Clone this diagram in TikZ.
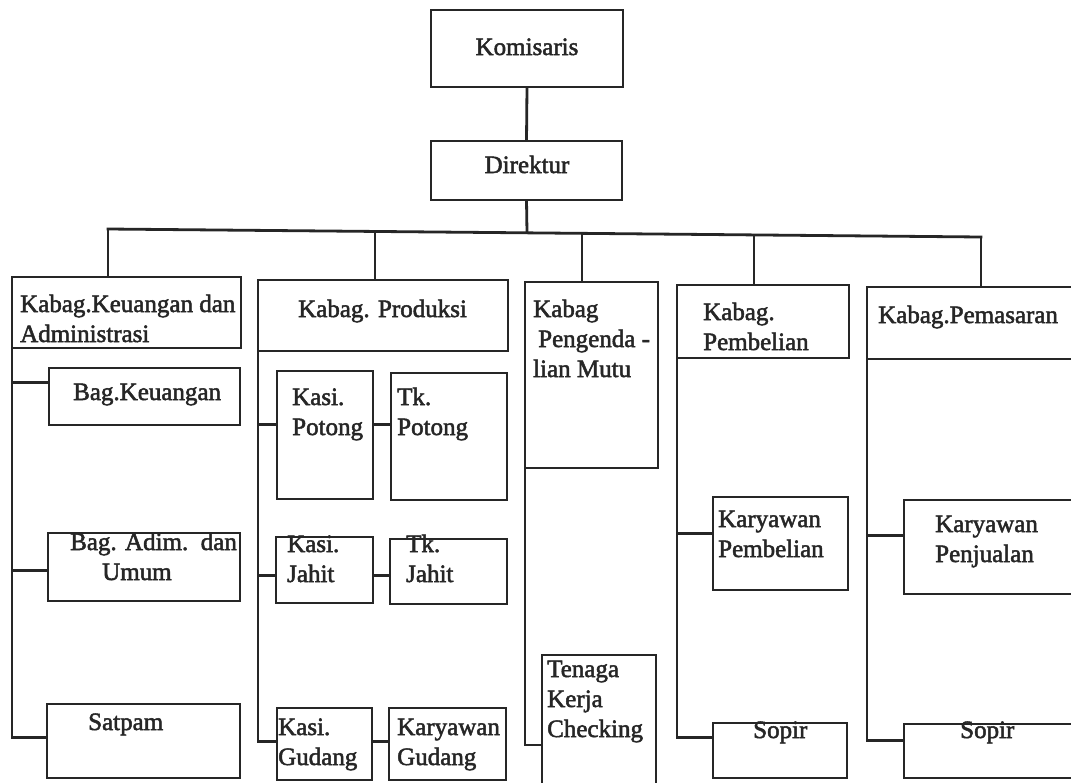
\documentclass[tikz,border=0pt]{standalone}
\usepackage{fontspec}
\setmainfont{Liberation Serif}
\newfontfamily\scanfont{Liberation Serif}[FakeBold=2]
\usetikzlibrary{calc}
\newcommand\mybox[5]{\node[box, minimum width={#4-#2}, minimum height={#5-#3}] (#1) at ({(#2+#4)/2},{(#3+#5)/2}) {};}
\begin{document}
\begin{tikzpicture}[x=1pt,y=-1pt,
  box/.style={draw=black!85, line width=2.8pt, inner sep=0pt, outer sep=0pt, rectangle},
  lbl/.style={anchor=base west, inner sep=0pt, align=left, font=\scanfont\fontsize{25}{30}\selectfont, text=black!85},
  conn/.style={draw=black!85, line width=2.8pt}]
\useasboundingbox (0,0) rectangle (1071,782);
\clip (0,0) rectangle (1071,782);
\fill[white] (0,0) rectangle (1071,782);

% top
\mybox{kom}{431}{10}{623}{87}
\mybox{dir}{431}{141}{622}{200}
\node[lbl, anchor=base] (tkom) at (527,55) {Komisaris};
\node[lbl, anchor=base] (tdir) at (527,173) {Direktur};

% heads
\mybox{kk}{12}{277}{241}{348}
\mybox{kp}{258}{280}{508}{351}
\mybox{km}{525}{282}{658}{468}
\mybox{kb}{677}{285}{849}{358}
\mybox{ks}{867}{287}{1100}{359}

% column 1
\mybox{bk}{49}{368}{240}{425}
\mybox{ba}{48}{533}{240}{601}
\mybox{sa}{47}{704}{240}{778}
% column 2
\mybox{kpo}{277}{371}{373}{499}
\mybox{tpo}{391}{373}{507}{500}
\mybox{kja}{276}{537}{373}{603}
\mybox{tja}{390}{539}{507}{604}
\mybox{kgu}{277}{708}{372}{780}
\mybox{kyg}{389}{708}{506}{780}
% column 3
\mybox{tkc}{542}{655}{656}{800}
% column 4
\mybox{kyb}{713}{497}{848}{590}
\mybox{so1}{713}{723}{847}{778}
% column 5
\mybox{kyj}{904}{500}{1100}{594}
\mybox{so2}{904}{724}{1100}{778}

% labels (base = baseline of last line)
\node[lbl] (tkk) at (20,342) {Kabag.Keuangan dan\\Administrasi};
\node[lbl] (tbk) at (73,400) {Bag.Keuangan};
\node[lbl] (tba) at (70,580) {Bag. Adim.\ \ dan\\\hspace{32pt}Umum};
\node[lbl] (tsa) at (88,730) {Satpam};
\node[lbl] (tkp) at (298,317) {Kabag. Produksi};
\node[lbl] (tkpo) at (292,435) {Kasi.\\Potong};
\node[lbl] (ttpo) at (397,435) {Tk.\\Potong};
\node[lbl] (tkja) at (287,582) {Kasi.\\Jahit};
\node[lbl] (ttja) at (406,582) {Tk.\\Jahit};
\node[lbl] (tkgu) at (278,765) {Kasi.\\Gudang};
\node[lbl] (tkyg) at (397,765) {Karyawan\\Gudang};
\node[lbl] (tkm) at (533,377) {Kabag\\\hspace{5pt}Pengenda -\\lian Mutu};
\node[lbl] (ttkc) at (547,737) {Tenaga\\Kerja\\Checking};
\node[lbl] (tkb) at (703,350) {Kabag.\\Pembelian};
\node[lbl] (tks) at (878,323) {Kabag.Pemasaran};
\node[lbl] (tkyb) at (718,557) {Karyawan\\Pembelian};
\node[lbl] (tkyj) at (935,562) {Karyawan\\Penjualan};
\node[lbl] (tso1) at (753,738) {Sopir};
\node[lbl] (tso2) at (960,738) {Sopir};

% connectors top
\coordinate (b1) at (108,229);
\coordinate (b2) at (375,231.4);
\coordinate (bd) at (527,232.8);
\coordinate (b3) at (582,233.3);
\coordinate (b4) at (754,234.9);
\coordinate (b5) at (981,237);
\draw[conn] (kom.south) -- (dir.north);
\draw[conn] (dir.south) -- (bd);
\draw[conn, line cap=rect] (b1) -- (b5);
\draw[conn] (b1) -- (b1 |- kk.north);
\draw[conn] (b2) -- (b2 |- kp.north);
\draw[conn] (b3) -- (b3 |- km.north);
\draw[conn] (b4) -- (b4 |- kb.north);
\draw[conn] (b5) -- (b5 |- ks.north);

% column connectors
\draw[conn] (kk.south west) |- ($(bk.north west)!0.26!(bk.south west)$);
\draw[conn] (kk.south west) |- ($(ba.north west)!0.55!(ba.south west)$);
\draw[conn] (kk.south west) |- ($(sa.north west)!0.45!(sa.south west)$);

\draw[conn] (kp.south west) |- ($(kpo.north west)!0.42!(kpo.south west)$);
\draw[conn] (kp.south west) |- ($(kja.north west)!0.58!(kja.south west)$);
\draw[conn] (kp.south west) |- ($(kgu.north west)!0.47!(kgu.south west)$);
\path ($(kpo.north east)!0.42!(kpo.south east)$) coordinate (c1);
\path ($(kja.north east)!0.58!(kja.south east)$) coordinate (c2);
\path ($(kgu.north east)!0.47!(kgu.south east)$) coordinate (c3);
\draw[conn] (c1) -- (c1 -| tpo.west);
\draw[conn] (c2) -- (c2 -| tja.west);
\draw[conn] (c3) -- (c3 -| kyg.west);

\draw[conn] (km.south west) |- ($(tkc.north west)!0.62!(tkc.south west)$);

\draw[conn] (kb.south west) |- ($(kyb.north west)!0.39!(kyb.south west)$);
\draw[conn] (kb.south west) |- ($(so1.north west)!0.27!(so1.south west)$);

\draw[conn] (ks.south west) |- ($(kyj.north west)!0.38!(kyj.south west)$);
\draw[conn] (ks.south west) |- ($(so2.north west)!0.3!(so2.south west)$);
\end{tikzpicture}
\end{document}
